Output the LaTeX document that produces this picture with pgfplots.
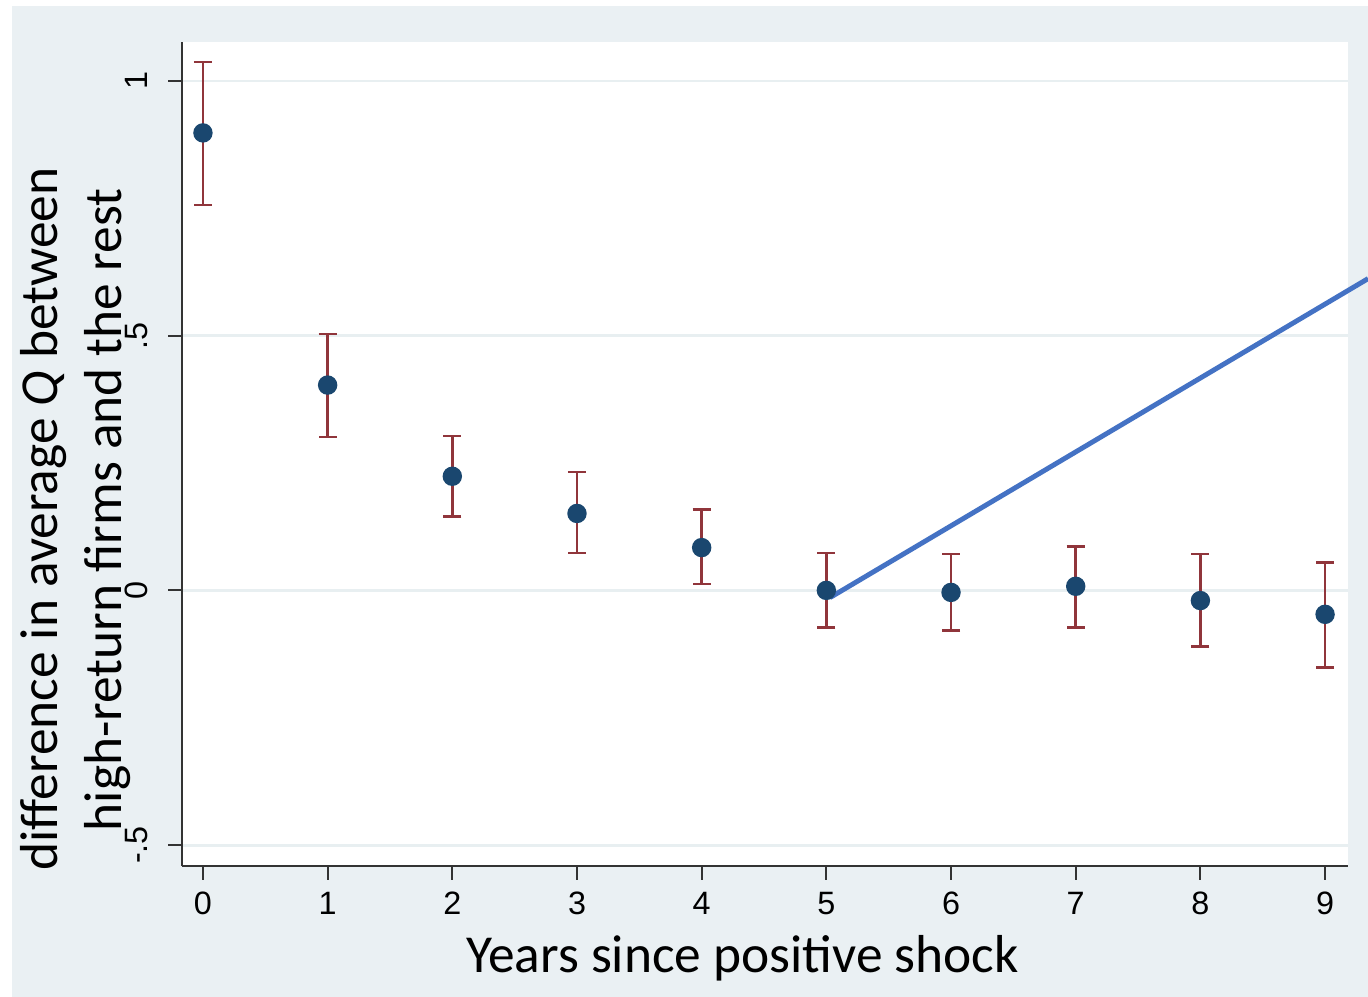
\documentclass[border=0pt]{standalone}
\usepackage{fontspec}
\setmainfont{Carlito}
\newfontfamily\tickfont{Liberation Sans}
\usepackage{pgfplots}
\pgfplotsset{compat=1.18}
\definecolor{stbg}{RGB}{234,240,243}
\definecolor{stgrid}{RGB}{232,239,241}
\definecolor{stnavy}{RGB}{26,71,111}
\definecolor{stmaroon}{RGB}{144,53,59}
\definecolor{fitblue}{RGB}{68,114,196}

\begin{document}
\begin{tikzpicture}[x=1mm,y=1mm]
\useasboundingbox (0,0) rectangle (136.8,99.7);
\fill[stbg] (1.2,0) rectangle (136.8,99.1);
\begin{axis}[
  at={(18.2mm,13.1mm)}, anchor=south west, scale only axis,
  width=116.6mm, height=82.4mm,
  xmin=-0.168, xmax=9.184, ymin=-0.541, ymax=1.0765,
  axis background/.style={fill=white},
  axis x line*=bottom, axis y line*=left,
  axis line style={draw=black!80, line width=0.6pt},
  tick align=outside, major tick length=1.4mm,
  tick style={draw=black!80, line width=0.6pt},
  xtick={0,...,9}, ytick={-0.5,0,0.5,1}, yticklabels={-.5,0,.5,1},
  ymajorgrids, grid style={stgrid, line width=0.8pt},
  /pgf/number format/assume math mode=true,
  tick label style={font=\tickfont\fontsize{9.2}{11}\selectfont},
  yticklabel style={rotate=90, anchor=south},
  yticklabel shift=0.8mm,
  clip=false,
]
% point estimates
\addplot[only marks, mark=*, mark size=0.9mm, stnavy] coordinates {
  (0,0.898) (1,0.403) (2,0.224) (3,0.151) (4,0.084)
  (5,0.000) (6,-0.004) (7,0.008) (8,-0.020) (9,-0.047)};
% confidence intervals (drawn over the dots)
\addplot[draw=none, mark=none, forget plot,
  error bars/.cd, y dir=both, y explicit,
  error bar style={draw=stmaroon, line width=0.7pt},
  error mark options={rotate=90, draw=stmaroon, line width=0.7pt, mark size=0.9mm}]
  coordinates {
  (0,0.898) += (0,0.139) -= (0,0.142)
  (1,0.403) += (0,0.100) -= (0,0.102)
  (2,0.224) += (0,0.079) -= (0,0.079)
  (3,0.151) += (0,0.081) -= (0,0.078)
  (4,0.084) += (0,0.075) -= (0,0.072)
  (5,0.000) += (0,0.073) -= (0,0.073)
  (6,-0.004) += (0,0.075) -= (0,0.075)
  (7,0.008) += (0,0.078) -= (0,0.081)
  (8,-0.020) += (0,0.091) -= (0,0.090)
  (9,-0.047) += (0,0.102) -= (0,0.104)};
% hand-drawn trend line
\addplot[fitblue, line width=1.4pt, mark=none] coordinates {(5.03,-0.014) (9.345,0.612)};
\end{axis}
\node[rotate=90, anchor=base, font=\fontsize{15.2}{18}\selectfont] at (5.7,47.8) {difference in average \textit{Q} between};
\node[rotate=90, anchor=base, font=\fontsize{15.2}{18}\selectfont] at (12.1,48.7) {high-return firms and the rest};
\node[anchor=base, font=\fontsize{15.2}{18}\selectfont] at (74.25,2.4) {Years since positive shock};
\end{tikzpicture}
\end{document}
